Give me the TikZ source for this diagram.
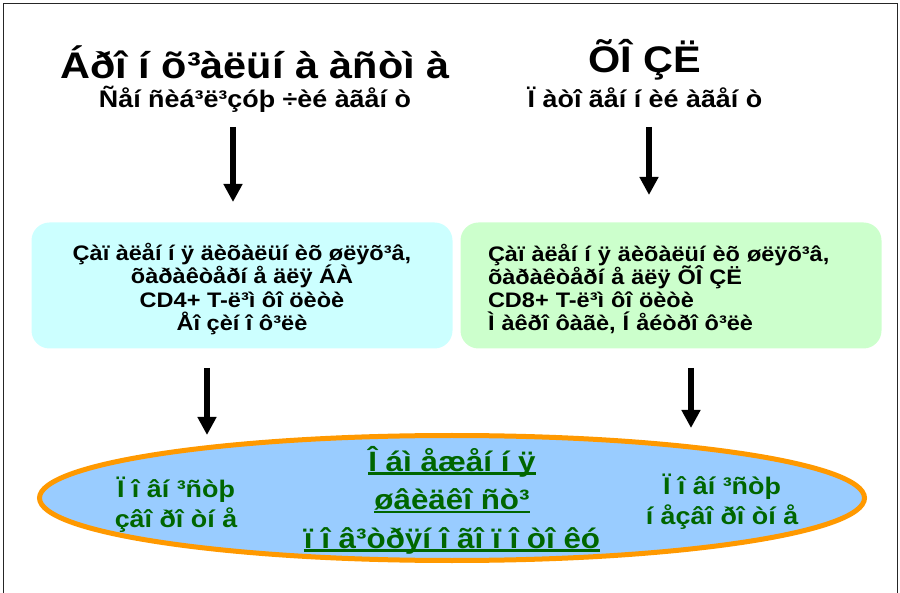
\documentclass[tikz,border=0pt]{standalone}
\usepackage{fontspec}
\setmainfont[FakeStretch=1.12]{Liberation Sans}
\usetikzlibrary{arrows.meta,shapes.geometric}
\definecolor{boxcyan}{HTML}{CCFFFF}
\definecolor{boxgreen}{HTML}{CCFFCC}
\definecolor{ellblue}{HTML}{99CCFF}
\definecolor{ellorange}{HTML}{FF9900}
\definecolor{txtgreen}{HTML}{006600}
\newcommand\myul[1]{\setbox0\hbox{#1}\rlap{\rule[-3.5pt]{\wd0}{2.2pt}}\box0}
\tikzset{
  bigtitle/.style={font=\fontsize{37}{40}\selectfont\bfseries, inner sep=0pt},
  subtitle/.style={font=\fontsize{24}{27}\selectfont\bfseries, inner sep=0pt},
  infobox/.style={rounded corners=18pt, minimum width=421pt, minimum height=126pt, inner sep=0pt},
  boxtext/.style={font=\fontsize{21}{23.3}\selectfont\bfseries, inner sep=0pt},
  elltext/.style={text=txtgreen, font=\fontsize{24}{30}\selectfont\bfseries, align=center, inner sep=0pt},
  bigarrow/.style={line width=6pt, -{Triangle[width=18pt,length=18pt]}},
  frameline/.style={line width=1.2pt, draw=black!85}
}
\begin{document}
\begin{tikzpicture}[x=1pt,y=-1pt]
\useasboundingbox (0,0) rectangle (900,593);
\draw[frameline] (3.5,600) -- (3.5,3.5) -- (897.5,3.5) -- (897.5,600);

% titles
\node[bigtitle] (t1) at (255,62) {Áðî í õ³àëüí à àñòì à};
\node[subtitle] (s1) at (255,99) {Ñåí ñèá³ë³çóþ ÷èé àãåí ò};
\node[bigtitle] (t2) at (645,60) {ÕÎ ÇË};
\node[subtitle] (s2) at (645,97) {Ï àòî ãåí í èé àãåí ò};

% boxes
\node[infobox, fill=boxcyan] (b1) at (242,285.5) {};
\node[boxtext, align=center] (b1t) at (242,289)
  {Çàï àëåí í ÿ äèõàëüí èõ øëÿõ³â,\\õàðàêòåðí å äëÿ ÁÀ\\CD4+ T-ë³ì ôî öèòè\\Åî çèí î ô³ëè};
\node[infobox, fill=boxgreen] (b2) at (671,285.5) {};
\node[boxtext, align=left, text width=366pt] (b2t) at (671,289)
  {Çàï àëåí í ÿ äèõàëüí èõ øëÿõ³â,\\õàðàêòåðí å äëÿ ÕÎ ÇË\\CD8+ T-ë³ì ôî öèòè\\Ì àêðî ôàãè, Í åéòðî ô³ëè};

% ellipse
\node[ellipse, draw=ellorange, fill=ellblue, line width=5pt, minimum width=825pt, minimum height=125pt, inner sep=0pt] (e) at (452,498) {};
\node[elltext] (el) at (176,505) {Ï î âí ³ñòþ\\çâî ðî òí å};
\node[elltext] (er) at (722,502) {Ï î âí ³ñòþ\\í åçâî ðî òí å};
\node[elltext, font=\fontsize{28}{38.5}\selectfont\bfseries] (ec) at (452,500)
  {\myul{Î áì åæåí í ÿ}\\\myul{øâèäêî ñò³}\\\myul{ï î â³òðÿí î ãî ï î òî êó}};

% arrows
\coordinate (a1s) at (233,127); \coordinate (a1e) at (233,202);
\coordinate (a2s) at (649,127); \coordinate (a2e) at (649,195);
\coordinate (a3s) at (207,368); \coordinate (a3e) at (207,435);
\coordinate (a4s) at (691,368); \coordinate (a4e) at (691,428);
\draw[bigarrow] (a1s) -- (a1e);
\draw[bigarrow] (a2s) -- (a2e);
\draw[bigarrow] (a3s) -- (a3e);
\draw[bigarrow] (a4s) -- (a4e);
\end{tikzpicture}
\end{document}
